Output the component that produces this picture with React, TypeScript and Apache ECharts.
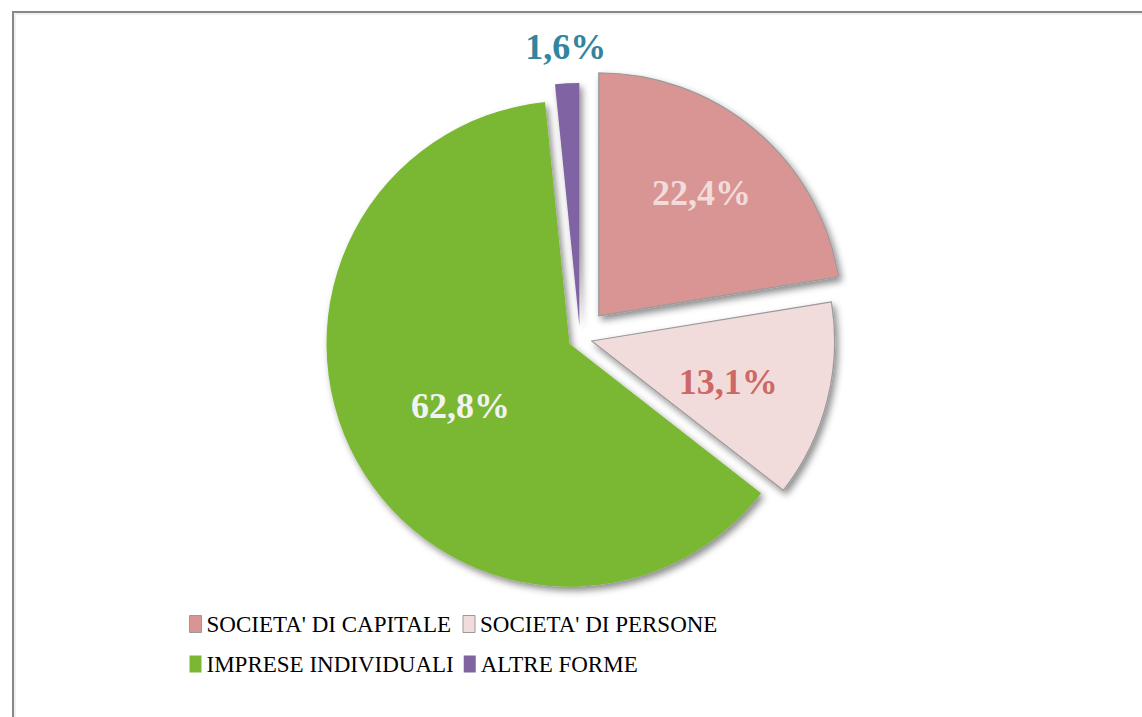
import React, { useEffect, useRef } from "react";
import * as echarts from "echarts";

const categories = [
  "SOCIETA' DI CAPITALE",
  "SOCIETA' DI PERSONE",
  "IMPRESE INDIVIDUALI",
  "ALTRE FORME",
];
const values = [22.4, 13.1, 62.8, 1.6];
const labels = ["22,4%", "13,1%", "62,8%", "1,6%"];
const colors = ["#D99594", "#F2DCDB", "#7AB733", "#8064A2"];
const labelColors = ["#F2DCDB", "#CD6867", "#F2F2F2", "#31859C"];
const borders = ["#9a9a9a", "#9a9a9a", null, null];
// which series (0 = large explosion, 1 = small explosion) draws each slice
const groupOf = [0, 1, 1, 1];
const labelShift: number[][] = [
  [22, -28],
  [16, 10],
  [0, 2],
  [46, 0],
];

const FONT = "'Liberation Serif', 'Times New Roman', serif";

function buildSeries(group: number, offset: number) {
  return {
    type: "pie",
    silent: true,
    center: [580, 338],
    radius: [0, 243],
    startAngle: 90,
    clockwise: true,
    selectedMode: "multiple",
    selectedOffset: offset,
    avoidLabelOverlap: false,
    emphasis: { disabled: true },
    labelLayout: (p: any) => ({
      dx: labelShift[p.dataIndex][0],
      dy: labelShift[p.dataIndex][1],
    }),
    data: categories.map((name, i) => {
      const visible = groupOf[i] === group;
      const itemStyle = visible
        ? {
            color: colors[i],
            borderColor: borders[i] || colors[i],
            borderWidth: borders[i] ? 1.2 : 0,
            shadowColor: "rgba(0,0,0,0.45)",
            shadowBlur: 7,
            shadowOffsetX: 3,
            shadowOffsetY: 4,
          }
        : { color: "rgba(0,0,0,0)", borderWidth: 0, shadowBlur: 0 };
      const outside = i === 3;
      return {
        name,
        value: values[i],
        selected: visible,
        itemStyle,
        select: { itemStyle },
        label: {
          show: visible,
          position: outside ? "outside" : "inside",
          formatter: labels[i],
          color: labelColors[i],
          fontFamily: FONT,
          fontWeight: "bold",
          fontSize: 36,
        },
        labelLine: { show: false, length: 36, length2: 0 },
      };
    }),
  };
}

export default function App() {
  const ref = useRef<HTMLDivElement>(null);
  useEffect(() => {
    if (!ref.current) return;
    const chart = echarts.init(ref.current, null, { renderer: "svg" });
    chart.setOption({
      animation: false,
      backgroundColor: "#ffffff",
      graphic: [
        {
          type: "rect",
          silent: true,
          z: -10,
          shape: { x: 13, y: 12, width: 1160, height: 740 },
          style: { fill: "none", stroke: "#878787", lineWidth: 2 },
        },
        {
          type: "rect",
          silent: true,
          z: -10,
          shape: { x: 15, y: 14, width: 1160, height: 740 },
          style: { fill: "none", stroke: "#e2e2e2", lineWidth: 1 },
        },
      ],
      legend: {
        left: 184,
        top: 604,
        width: 560,
        orient: "horizontal",
        itemGap: 10,
        itemWidth: 12,
        itemHeight: 17,
        icon: "rect",
        selectedMode: false,
        textStyle: {
          fontFamily: FONT,
          fontSize: 23,
          color: "#000000",
          width: 246,
          lineHeight: 30,
        },
        data: categories.map((name, i) => ({
          name,
          itemStyle: {
            color: colors[i],
            borderColor: borders[i] || colors[i],
            borderWidth: borders[i] ? 1 : 0,
          },
        })),
      },
      series: [buildSeries(1, 12), buildSeries(0, 29)],
    });
    return () => chart.dispose();
  }, []);
  return (
    <div
      ref={ref}
      style={{ position: "absolute", left: 0, top: 0, width: 1142, height: 717 }}
    />
  );
}
